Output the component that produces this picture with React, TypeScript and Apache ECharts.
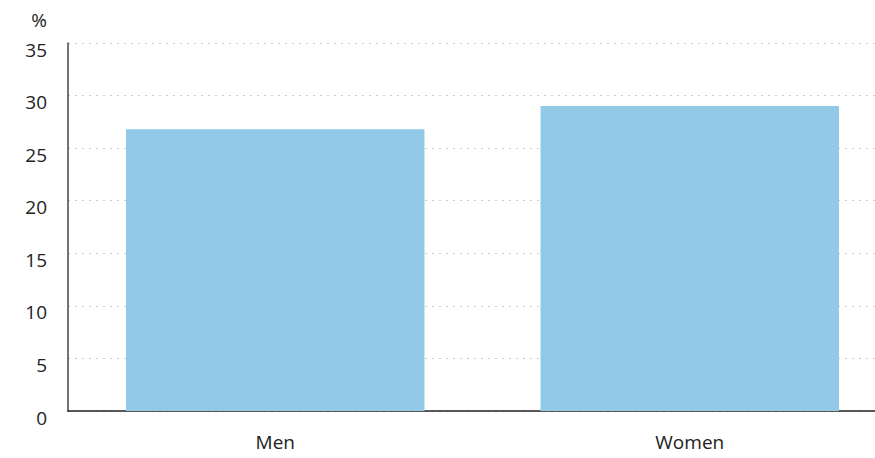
import React, { useEffect, useRef } from "react";
import * as echarts from "echarts";

const categories = ["Men", "Women"];
const values = [26.8, 29.0];
const yTicks = { min: 0, max: 35, interval: 5 };

export default function App() {
  const ref = useRef<HTMLDivElement>(null);
  useEffect(() => {
    document.body.style.margin = "0";
    const chart = echarts.init(ref.current!, null, { renderer: "svg" });
    const font = "Open Sans";
    chart.setOption({
      animation: false,
      grid: { left: 68, width: 829, top: 43, bottom: 47, containLabel: false, outerBoundsMode: "none" },
      xAxis: {
        type: "category",
        data: categories,
        axisLine: { show: true, lineStyle: { color: "#222", width: 1.5 } },
        axisTick: { show: false },
        axisLabel: { color: "#222", fontSize: 19, fontFamily: font, margin: 21 },
        splitLine: { show: false },
        z: 1,
      },
      yAxis: {
        type: "value",
        min: yTicks.min,
        max: yTicks.max,
        interval: yTicks.interval,
        name: "%",
        nameLocation: "end",
        nameGap: 14,
        nameTextStyle: { color: "#222", fontSize: 19, fontFamily: font, align: "right", padding: [0, 21, 0, 0] },
        axisLine: { show: true, lineStyle: { color: "#444", width: 1.5 } },
        axisTick: { show: false },
        axisLabel: {
          color: "#222",
          fontSize: 19,
          fontFamily: font,
          margin: 21,
          verticalAlign: "top",
          padding: [-3, 0, 0, 0],
        },
        splitLine: { show: true, lineStyle: { color: "#ccc", type: [2, 5], width: 1 } },
      },
      series: [
        {
          type: "bar",
          data: values,
          barWidth: "72%",
          itemStyle: { color: "#91C9E7" },
          z: 3,
        },
      ],
    });
    return () => chart.dispose();
  }, []);
  return <div ref={ref} style={{ width: 875, height: 458 }} />;
}
